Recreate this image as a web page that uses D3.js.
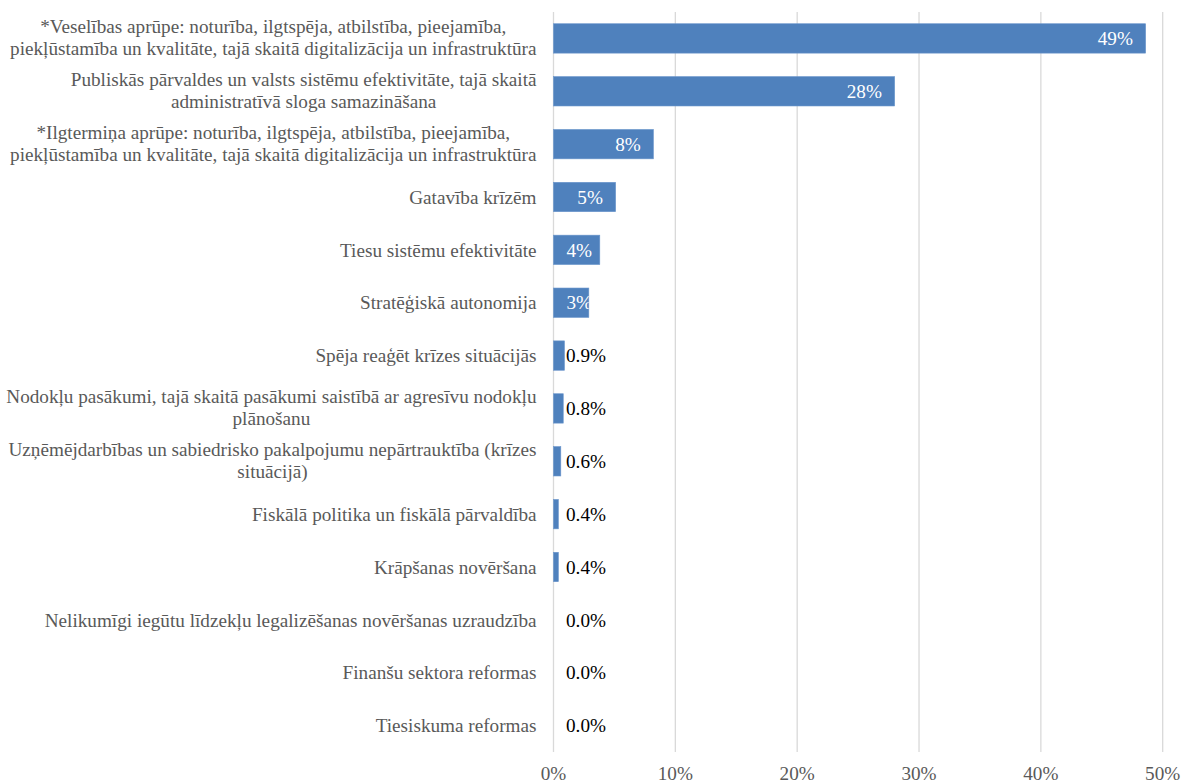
<!DOCTYPE html>
<html>
<head>
<meta charset="utf-8">
<script src="https://cdn.jsdelivr.net/npm/d3@7"></script>
<style>
  body { margin: 0; background: #fff; }
  svg text { font-family: "Liberation Serif", "Times New Roman", serif; }
</style>
</head>
<body>
<div id="chart"></div>
<script>
// categories, each entry split into the lines as wrapped in the chart
const categories = [
    ["*Veselības aprūpe: noturība, ilgtspēja, atbilstība, pieejamība,", "piekļūstamība un kvalitāte, tajā skaitā digitalizācija un infrastruktūra"],
    ["Publiskās pārvaldes un valsts sistēmu efektivitāte, tajā skaitā", "administratīvā sloga samazināšana"],
    ["*Ilgtermiņa aprūpe: noturība, ilgtspēja, atbilstība, pieejamība,", "piekļūstamība un kvalitāte, tajā skaitā digitalizācija un infrastruktūra"],
    ["Gatavība krīzēm"],
    ["Tiesu sistēmu efektivitāte"],
    ["Stratēģiskā autonomija"],
    ["Spēja reaģēt krīzes situācijās"],
    ["Nodokļu pasākumi, tajā skaitā pasākumi saistībā ar agresīvu nodokļu", "plānošanu"],
    ["Uzņēmējdarbības un sabiedrisko pakalpojumu nepārtrauktība (krīzes", "situācijā)"],
    ["Fiskālā politika un fiskālā pārvaldība"],
    ["Krāpšanas novēršana"],
    ["Nelikumīgi iegūtu līdzekļu legalizēšanas novēršanas uzraudzība"],
    ["Finanšu sektora reformas"],
    ["Tiesiskuma reformas"]
];

// share of responses, percent
const values = [48.6, 28.0, 8.2, 5.1, 3.8, 2.9, 0.9, 0.8, 0.6, 0.4, 0.4, 0.0, 0.0, 0.0];

const xTicks = [0, 0.1, 0.2, 0.3, 0.4, 0.5];

const width = 1182, height = 783;
const fontSize = 19.2;
const data = values.map((v, i) => ({ id: i, lines: categories[i], value: v / 100 }));

const x = d3.scaleLinear()
    .domain([0, 0.5])
    .range([553.5, 1162.7]);

const y = d3.scaleBand()
    .domain(data.map(d => d.id))
    .range([12, 752])
    .paddingInner(0.444)
    .paddingOuter(0.222);

const svg = d3.select("#chart")
    .append("svg")
    .attr("width", width)
    .attr("height", height);

// gridlines
svg.append("g")
    .selectAll("line")
    .data(xTicks)
    .join("line")
    .attr("x1", d => x(d))
    .attr("x2", d => x(d))
    .attr("y1", 12)
    .attr("y2", 752)
    .attr("stroke", "#d9d9d9")
    .attr("stroke-width", 1.3);

// x axis labels
svg.append("g")
    .selectAll("text")
    .data(xTicks)
    .join("text")
    .attr("x", d => x(d))
    .attr("y", 773)
    .attr("dy", "0.35em")
    .attr("text-anchor", "middle")
    .attr("font-size", fontSize)
    .attr("fill", "#595959")
    .text(d3.format(".0%"));

// bars
const defs = svg.append("defs");
defs.selectAll("clipPath")
    .data(data)
    .join("clipPath")
    .attr("id", d => `bar-clip-${d.id}`)
    .append("rect")
    .attr("x", x(0))
    .attr("y", d => y(d.id))
    .attr("width", d => x(d.value) - x(0))
    .attr("height", y.bandwidth());

svg.append("g")
    .selectAll("rect")
    .data(data.filter(d => d.value > 0))
    .join("rect")
    .attr("x", x(0))
    .attr("y", d => y(d.id))
    .attr("width", d => x(d.value) - x(0))
    .attr("height", y.bandwidth())
    .attr("fill", "#4f81bd")
    .attr("stroke", "#6a96cc")
    .attr("stroke-width", 0.6);

// category labels: lines centered within a right-aligned block
const catGroup = svg.append("g");
const labelRight = 536.5;
const lineHeight = 22;

data.forEach(d => {
    const g = catGroup.append("g");
    const n = d.lines.length;
    const cy = y(d.id) + y.bandwidth() / 2;
    const texts = g.selectAll("text")
        .data(d.lines)
        .join("text")
        .attr("y", (t, i) => cy + (i - (n - 1) / 2) * lineHeight - (n > 1 ? 1 : 0))
        .attr("dy", "0.35em")
        .attr("font-size", fontSize)
        .attr("fill", "#595959")
        .attr("text-anchor", "middle")
        .text(t => t);
    let maxW = 0;
    texts.each(function () { maxW = Math.max(maxW, this.getComputedTextLength()); });
    texts.attr("x", labelRight - maxW / 2);
});

// value labels
const fmt = v => v >= 0.01 ? d3.format(".0%")(v) : d3.format(".1%")(v);
const valGroup = svg.append("g");

data.forEach(d => {
    const cy = y(d.id) + y.bandwidth() / 2;
    const inside = d.value >= 0.02;
    const t = valGroup.append("text")
        .attr("y", cy)
        .attr("dy", "0.35em")
        .attr("font-size", fontSize)
        .attr("fill", inside ? "#ffffff" : "#000000")
        .text(fmt(d.value));
    const w = t.node().getComputedTextLength();
    if (inside) {
        t.attr("x", Math.max(x(0) + 13, x(d.value) - 12.7 - w))
         .attr("clip-path", `url(#bar-clip-${d.id})`);
    } else {
        t.attr("x", Math.max(x(d.value) + 1.5, x(0) + 12.5));
    }
});
</script>
</body>
</html>
